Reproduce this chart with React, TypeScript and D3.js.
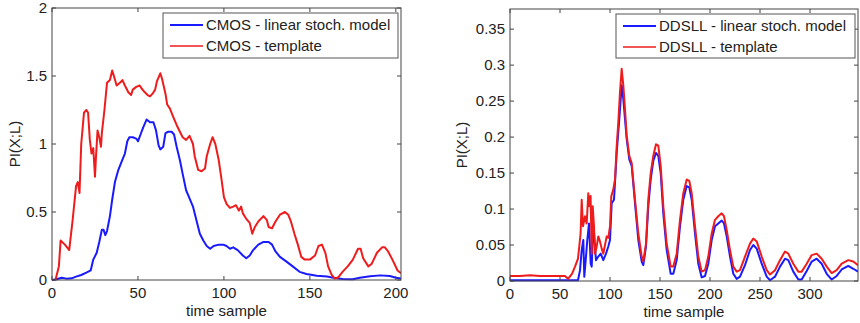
import React, { useEffect, useRef } from 'react';
import * as d3 from 'd3';

// left panel: CMOS
const cmosLinearT = [0, 2.7, 5.6, 8.5, 11.4, 14, 17, 20, 22.5, 24, 26, 27.5, 29, 30, 31, 32, 33.7, 35, 36.6, 38.6, 40.5, 42.4, 43.8, 45, 47, 49, 50, 51.5, 53, 55, 57, 59, 60.5, 62, 63, 64.7, 66, 67.6, 69.6, 71, 72.5, 74.4, 76, 78, 80, 82, 84, 86, 88, 90, 92, 94, 97, 99.6, 101.5, 103.5, 105.4, 108, 111, 113, 115, 117, 120, 123, 126, 128, 130, 132.6, 136.4, 140, 144, 148, 154, 160, 163.6, 169, 175, 179, 185, 191, 196.5, 200, 203];
const cmosLinear = [0, 0.005, 0.017, 0.01, 0.012, 0.025, 0.037, 0.054, 0.07, 0.15, 0.2, 0.28, 0.37, 0.37, 0.33, 0.36, 0.47, 0.59, 0.72, 0.81, 0.87, 0.93, 1.02, 1.05, 1.05, 1.04, 1.02, 1.07, 1.12, 1.18, 1.16, 1.16, 1.1, 0.99, 0.96, 0.98, 1.08, 1.09, 1.09, 1.07, 0.98, 0.88, 0.78, 0.66, 0.6, 0.54, 0.44, 0.34, 0.29, 0.25, 0.23, 0.25, 0.26, 0.26, 0.25, 0.23, 0.24, 0.22, 0.18, 0.16, 0.18, 0.22, 0.26, 0.28, 0.28, 0.26, 0.21, 0.17, 0.135, 0.1, 0.06, 0.044, 0.032, 0.025, 0.017, 0.007, 0.005, 0.017, 0.027, 0.034, 0.03, 0.017, 0.01];
const cmosTemplateT = [2, 4, 5, 7.5, 10, 12, 14, 15, 16, 17, 18.6, 20, 21, 22, 23, 24, 25, 25.6, 26.5, 27.5, 28.5, 29, 30.5, 32, 33.7, 35, 36, 37.6, 39.5, 41, 42.4, 44.4, 46, 47, 49, 51, 52, 54, 55.6, 57, 58.5, 60, 61, 63, 64, 66, 67, 68.6, 70.5, 72.5, 74.4, 76, 78, 80, 82, 83, 85, 87, 89, 90, 92, 93.4, 95, 97, 98.6, 100, 101.5, 103.5, 105.4, 107, 108.7, 110, 111, 113, 115, 116.5, 118, 120, 123, 125, 126, 128, 130, 132.6, 135.5, 137.4, 139, 141, 143, 145, 147, 150, 153, 155, 157, 159, 160.6, 162.6, 164.5, 166.5, 169, 172, 175, 178, 179.5, 181, 184, 186, 189, 192, 193.6, 195.5, 198, 201, 203];
const cmosTemplate = [0, 0.1, 0.29, 0.26, 0.22, 0.44, 0.69, 0.72, 0.64, 1.0, 1.23, 1.25, 1.23, 1.03, 0.93, 0.97, 0.76, 0.91, 1.1, 1.05, 0.98, 1.08, 1.25, 1.45, 1.47, 1.54, 1.5, 1.43, 1.45, 1.47, 1.43, 1.38, 1.36, 1.4, 1.42, 1.43, 1.41, 1.38, 1.36, 1.35, 1.37, 1.4, 1.46, 1.52, 1.48, 1.37, 1.29, 1.26, 1.2, 1.14, 1.09, 1.05, 1.03, 1.06, 1.0, 0.91, 0.81, 0.8, 0.82, 0.91, 1.0, 1.05, 1.0, 0.88, 0.74, 0.61, 0.56, 0.53, 0.54, 0.55, 0.51, 0.54, 0.49, 0.45, 0.42, 0.34, 0.39, 0.43, 0.47, 0.44, 0.39, 0.38, 0.43, 0.48, 0.5, 0.48, 0.43, 0.34, 0.26, 0.17, 0.15, 0.15, 0.18, 0.25, 0.26, 0.2, 0.1, 0.04, 0.01, 0.02, 0.06, 0.1, 0.15, 0.23, 0.23, 0.16, 0.1, 0.12, 0.2, 0.24, 0.24, 0.21, 0.15, 0.07, 0.05];

// right panel: DDSLL
const ddsllLinearT = [0, 20, 40, 60, 68, 70, 71.7, 73.3, 74.3, 75.7, 77.3, 79, 80.7, 81.7, 82.7, 84, 86, 88.3, 90.7, 93.3, 96, 98.3, 100, 101.7, 104, 106.7, 109.3, 111.7, 113.3, 115, 116.7, 119.3, 121.7, 125, 128.3, 131.7, 133.3, 136, 138.3, 140.7, 143.3, 146, 148.3, 150.7, 153.3, 156.7, 160.7, 163.3, 166.7, 170, 173.3, 176.7, 179.3, 181.7, 185, 188.3, 191.7, 195, 198.3, 201.7, 205, 208.3, 211.7, 214, 216.7, 220, 223.3, 226.7, 230, 235, 240, 243.3, 246.7, 251.7, 256.7, 260, 265, 270, 275, 278.3, 283.3, 288.3, 291.7, 296.7, 301.7, 306.7, 311.7, 316.7, 321.7, 326.7, 331.7, 338.3, 343.3, 348];
const ddsllLinear = [0.001, 0.001, 0.001, 0.001, 0.001, 0.015, 0.043, 0.057, 0.006, 0.029, 0.057, 0.08, 0.024, 0.02, 0.057, 0.066, 0.029, 0.034, 0.038, 0.029, 0.038, 0.048, 0.057, 0.108, 0.113, 0.178, 0.225, 0.272, 0.253, 0.225, 0.197, 0.169, 0.16, 0.108, 0.057, 0.027, 0.022, 0.048, 0.104, 0.141, 0.167, 0.178, 0.174, 0.15, 0.094, 0.043, 0.01, 0.01, 0.029, 0.076, 0.113, 0.132, 0.13, 0.113, 0.066, 0.024, 0.005, 0.007, 0.024, 0.057, 0.076, 0.08, 0.084, 0.08, 0.062, 0.034, 0.01, 0.003, 0.006, 0.022, 0.043, 0.05, 0.045, 0.024, 0.006, 0.001, 0.006, 0.02, 0.031, 0.029, 0.013, 0.002, 0.002, 0.014, 0.027, 0.031, 0.024, 0.01, 0.002, 0.007, 0.016, 0.021, 0.017, 0.013];
const ddsllTemplateT = [0, 10, 20, 30, 40, 50, 55, 58, 62, 65, 68, 70.6, 71.7, 73, 75, 76.7, 78.3, 79.3, 80.6, 81.7, 82.7, 84, 85, 86.7, 88.3, 90, 91.7, 93.3, 95, 96.7, 98.3, 100, 101.3, 103.3, 105, 106.7, 108.3, 110, 111.7, 113.3, 115, 116.7, 119.3, 121.7, 125, 128.3, 131.7, 133.3, 136, 138.3, 140.7, 143.3, 146, 148.3, 150.7, 153.3, 156.7, 160.7, 163.3, 166.7, 170, 173.3, 176.7, 179.3, 181.7, 185, 188.3, 191.7, 195, 198.3, 201.7, 205, 208.3, 211.7, 214, 216.7, 220, 223.3, 226.7, 230, 235, 240, 243.3, 246.7, 251.7, 256.7, 260, 265, 270, 275, 278.3, 283.3, 288.3, 291.7, 296.7, 301.7, 306.7, 311.7, 316.7, 321.7, 326.7, 331.7, 338.3, 343.3, 348];
const ddsllTemplate = [0.007, 0.007, 0.008, 0.007, 0.007, 0.007, 0.007, 0.003, 0.01, 0.02, 0.031, 0.066, 0.113, 0.076, 0.09, 0.08, 0.122, 0.104, 0.118, 0.038, 0.104, 0.076, 0.038, 0.048, 0.062, 0.055, 0.045, 0.038, 0.05, 0.062, 0.06, 0.076, 0.118, 0.127, 0.141, 0.188, 0.22, 0.263, 0.295, 0.272, 0.239, 0.202, 0.174, 0.164, 0.113, 0.066, 0.034, 0.027, 0.052, 0.113, 0.15, 0.174, 0.19, 0.188, 0.16, 0.104, 0.052, 0.02, 0.02, 0.038, 0.085, 0.122, 0.141, 0.139, 0.122, 0.076, 0.034, 0.013, 0.015, 0.034, 0.066, 0.085, 0.09, 0.094, 0.09, 0.071, 0.043, 0.02, 0.013, 0.015, 0.034, 0.052, 0.059, 0.055, 0.034, 0.015, 0.009, 0.015, 0.029, 0.041, 0.038, 0.024, 0.013, 0.013, 0.024, 0.036, 0.038, 0.031, 0.02, 0.011, 0.015, 0.024, 0.029, 0.027, 0.022];

const cmosXTicks = [0, 50, 100, 150, 200];
const cmosYTicks = [0, 0.5, 1, 1.5, 2];
const ddsllXTicks = [0, 50, 100, 150, 200, 250, 300];
const ddsllYTicks = [0, 0.05, 0.1, 0.15, 0.2, 0.25, 0.3, 0.35];

const BLUE = '#1a1aff';
const RED = '#ee1c1c';
const FONT = '"Liberation Sans", Arial, sans-serif';

const drawPanel = (svg, cfg) => {
  const { left, right, top, bottom, xMax, yMax, xTicks, yTicks, yFmt, series, legend, legendBox } = cfg;
  const x = d3.scaleLinear().domain([0, xMax]).range([left, right]);
  const y = d3.scaleLinear().domain([0, yMax]).range([bottom, top]);

  const g = svg.append('g');

  g.append('rect')
    .attr('x', left).attr('y', top)
    .attr('width', right - left).attr('height', bottom - top)
    .attr('fill', '#fff');

  const clipId = 'clip' + left;
  svg.append('clipPath').attr('id', clipId)
    .append('rect')
    .attr('x', left).attr('y', top - 2)
    .attr('width', right - left).attr('height', bottom - top + 3);

  const line = d3.line()
    .x(d => x(d[0]))
    .y(d => y(d[1]));

  series.forEach(s => {
    const pts = s.t.map((t, i) => [t, s.v[i]]);
    g.append('path')
      .attr('d', line(pts))
      .attr('fill', 'none')
      .attr('stroke', s.color)
      .attr('stroke-width', 2)
      .attr('stroke-linejoin', 'round')
      .attr('clip-path', `url(#${clipId})`);
  });

  // frame with inward ticks on all four sides
  g.append('rect')
    .attr('x', left).attr('y', top)
    .attr('width', right - left).attr('height', bottom - top)
    .attr('fill', 'none').attr('stroke', '#444').attr('stroke-width', 1);

  const tl = 4;
  xTicks.forEach(t => {
    g.append('line').attr('x1', x(t)).attr('x2', x(t)).attr('y1', bottom).attr('y2', bottom - tl).attr('stroke', '#444');
    g.append('line').attr('x1', x(t)).attr('x2', x(t)).attr('y1', top).attr('y2', top + tl).attr('stroke', '#444');
    g.append('text')
      .attr('x', x(t)).attr('y', bottom + 18)
      .attr('text-anchor', 'middle')
      .attr('font-family', FONT).attr('font-size', 15).attr('fill', '#222')
      .text(t);
  });
  yTicks.forEach(t => {
    g.append('line').attr('x1', left).attr('x2', left + tl).attr('y1', y(t)).attr('y2', y(t)).attr('stroke', '#444');
    g.append('line').attr('x1', right).attr('x2', right - tl).attr('y1', y(t)).attr('y2', y(t)).attr('stroke', '#444');
    g.append('text')
      .attr('x', left - 5).attr('y', y(t) + 5)
      .attr('text-anchor', 'end')
      .attr('font-family', FONT).attr('font-size', 15).attr('fill', '#222')
      .text(yFmt(t));
  });

  g.append('text')
    .attr('x', (left + right) / 2).attr('y', bottom + 36)
    .attr('text-anchor', 'middle')
    .attr('font-family', FONT).attr('font-size', 15).attr('fill', '#222')
    .text('time sample');

  g.append('text')
    .attr('transform', `translate(${cfg.yLabelX},${(top + bottom) / 2}) rotate(-90)`)
    .attr('text-anchor', 'middle')
    .attr('font-family', FONT).attr('font-size', 15).attr('fill', '#222')
    .text('PI(X;L)');

  // legend
  const [lx, ly, lw, lh] = legendBox;
  g.append('rect')
    .attr('x', lx).attr('y', ly).attr('width', lw).attr('height', lh)
    .attr('fill', '#fff').attr('stroke', '#555').attr('stroke-width', 1);
  legend.forEach((name, i) => {
    const yy = ly + 12 + i * 21;
    g.append('line')
      .attr('x1', lx + 7).attr('x2', lx + 40)
      .attr('y1', yy).attr('y2', yy)
      .attr('stroke', series[i].color).attr('stroke-width', i === 0 ? 2 : 1.5);
    g.append('text')
      .attr('x', lx + 43).attr('y', yy + 5)
      .attr('font-family', FONT).attr('font-size', 15).attr('fill', '#222')
      .text(name);
  });
};

const App = () => {
  const svgRef = useRef(null);

  useEffect(() => {
    const svg = d3.select(svgRef.current);
    svg.selectAll('*').remove();

    drawPanel(svg, {
      left: 52, right: 401, top: 8, bottom: 280,
      xMax: 203, yMax: 2,
      xTicks: cmosXTicks, yTicks: cmosYTicks,
      yFmt: d => String(d),
      yLabelX: 20,
      series: [
        { t: cmosLinearT, v: cmosLinear, color: BLUE },
        { t: cmosTemplateT, v: cmosTemplate, color: RED },
      ],
      legend: ['CMOS - linear stoch. model', 'CMOS - template'],
      legendBox: [163, 13, 235, 45],
    });

    drawPanel(svg, {
      left: 510, right: 858, top: 9, bottom: 281,
      xMax: 348, yMax: 0.378,
      xTicks: ddsllXTicks, yTicks: ddsllYTicks,
      yFmt: d => String(d),
      yLabelX: 467,
      series: [
        { t: ddsllLinearT, v: ddsllLinear, color: BLUE },
        { t: ddsllTemplateT, v: ddsllTemplate, color: RED },
      ],
      legend: ['DDSLL - linear stoch. model', 'DDSLL - template'],
      legendBox: [616, 14, 239, 44],
    });
  }, []);

  return (
    <div style={{ position: 'absolute', left: 0, top: 0 }}>
      <svg ref={svgRef} width={860} height={323} style={{ display: 'block', background: '#fff' }} />
    </div>
  );
};

export default App;
